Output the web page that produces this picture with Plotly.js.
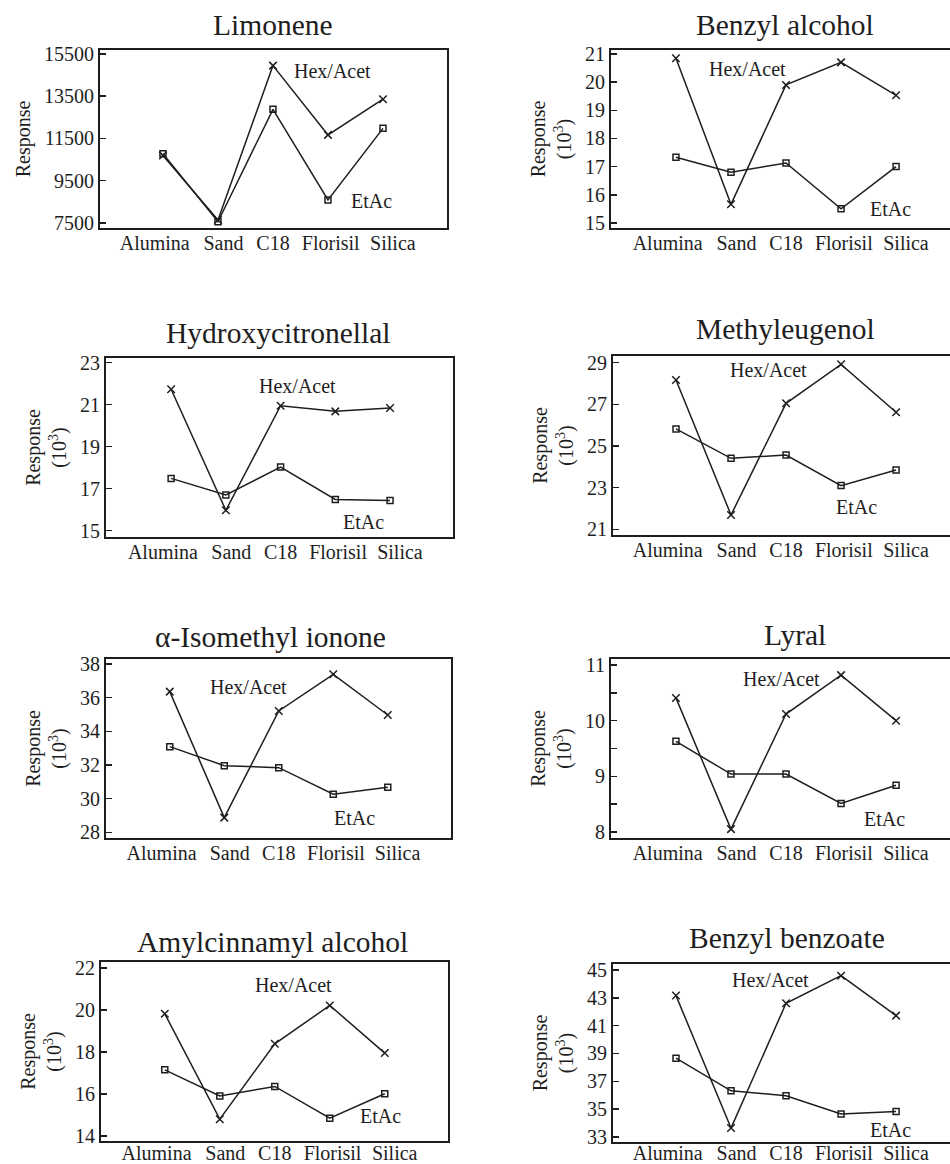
<!DOCTYPE html>
<html>
<head>
<meta charset="utf-8">
<script src="https://cdn.plot.ly/plotly-3.0.1.min.js"></script>
<style>html,body{margin:0;padding:0;background:#fff;overflow:hidden}#chart{width:950px;height:1164px}</style>
</head>
<body>
<div id="chart"></div>
<script>
// ---- data ----
const categories = ['Alumina', 'Sand', 'C18', 'Florisil', 'Silica'];
const seriesNames = ['Hex/Acet', 'EtAc'];
const compoundNames = ['Limonene', 'Benzyl alcohol', 'Hydroxycitronellal', 'Methyleugenol',
  'α-Isomethyl ionone', 'Lyral', 'Amylcinnamyl alcohol', 'Benzyl benzoate'];

const limoneneHex = [10700, 7640, 14950, 11670, 13360];
const limoneneEtAc = [10780, 7560, 12880, 8590, 11980];
const benzylAlcoholHex = [20.85, 15.66, 19.9, 20.7, 19.53];
const benzylAlcoholEtAc = [17.33, 16.8, 17.13, 15.5, 17.0];
const hydroxycitronellalHex = [21.73, 15.97, 20.95, 20.68, 20.84];
const hydroxycitronellalEtAc = [17.49, 16.7, 18.03, 16.49, 16.44];
const methyleugenolHex = [28.17, 21.69, 27.05, 28.92, 26.62];
const methyleugenolEtAc = [25.82, 24.41, 24.57, 23.1, 23.85];
const isomethylIononeHex = [36.36, 28.87, 35.21, 37.39, 34.97];
const isomethylIononeEtAc = [33.09, 31.96, 31.84, 30.26, 30.67];
const lyralHex = [10.41, 8.05, 10.12, 10.82, 10.0];
const lyralEtAc = [9.63, 9.04, 9.04, 8.51, 8.84];
const amylcinnamylHex = [19.82, 14.8, 18.39, 20.22, 17.95];
const amylcinnamylEtAc = [17.15, 15.91, 16.36, 14.85, 16.01];
const benzylBenzoateHex = [43.16, 33.64, 42.61, 44.59, 41.72];
const benzylBenzoateEtAc = [38.66, 36.32, 35.96, 34.65, 34.84];

const limoneneTicks = [7500, 9500, 11500, 13500, 15500];
const benzylAlcoholTicks = [15, 16, 17, 18, 19, 20, 21];
const hydroxycitronellalTicks = [15, 17, 19, 21, 23];
const methyleugenolTicks = [21, 23, 25, 27, 29];
const isomethylIononeTicks = [28, 30, 32, 34, 36, 38];
const lyralTicks = [8, 8.5, 9, 9.5, 10, 10.5, 11];
const lyralTickText = ['8', ' ', '9', ' ', '10', ' ', '11'];
const amylcinnamylTicks = [14, 16, 18, 20, 22];
const benzylBenzoateTicks = [33, 35, 37, 39, 41, 43, 45];

const yTitleSimple = 'Response';
const yTitleScaled = 'Response<br>(10<sup>3</sup>)';

// ---- layout geometry ----
// category index of each point (from the category list)
const catIndex = categories.map((c, i) => i);
// where each category label sits, relative to its point (the source spreads its labels a little)
const labelShift = [-0.15, 0.1, 0, 0.05, 0.18];
const labelPos = catIndex.map((v, i) => v + labelShift[i]);

const W = 950, H = 1164;
const panels = [
  {hex: limoneneHex, etac: limoneneEtAc, ticks: limoneneTicks, ytitle: yTitleSimple,
   box: [100, 447, 50, 228], xr: [-1.145, 5.164], yr: [7263, 15689], right: false, lblOff: -4,
   title: [273, 25], hexLab: [332, 71], etLab: [371, 201]},
  {hex: benzylAlcoholHex, etac: benzylAlcoholEtAc, ticks: benzylAlcoholTicks, ytitle: yTitleScaled,
   box: [611, 950, 50, 228], xr: [-1.18, 4.98], yr: [14.82, 21.14], right: true, lblOff: -4,
   title: [785, 25], hexLab: [747, 69], etLab: [890, 209]},
  {hex: hydroxycitronellalHex, etac: hydroxycitronellalEtAc, ticks: hydroxycitronellalTicks, ytitle: yTitleScaled,
   box: [106, 453, 358, 537], xr: [-1.19, 5.15], yr: [14.7, 23.22], right: false, lblOff: -4,
   title: [278, 333], hexLab: [297, 386], etLab: [363, 522]},
  {hex: methyleugenolHex, etac: methyleugenolEtAc, ticks: methyleugenolTicks, ytitle: yTitleScaled,
   box: [613, 950, 356, 535], xr: [-1.145, 4.98], yr: [20.73, 29.32], right: true, lblOff: -4,
   title: [785, 329], hexLab: [768, 370], etLab: [856, 507]},
  {hex: isomethylIononeHex, etac: isomethylIononeEtAc, ticks: isomethylIononeTicks, ytitle: yTitleScaled,
   box: [106, 451, 659, 838], xr: [-1.17, 5.16], yr: [27.66, 38.3], right: false, lblOff: -4,
   title: [270, 637], hexLab: [248, 687], etLab: [354, 818]},
  {hex: lyralHex, etac: lyralEtAc, ticks: lyralTicks, ticktext: lyralTickText, ytitle: yTitleScaled,
   box: [611, 950, 659, 838], xr: [-1.18, 4.98], yr: [7.89, 11.11], right: true, lblOff: -4,
   title: [795, 635], hexLab: [781, 679], etLab: [884, 819]},
  {hex: amylcinnamylHex, etac: amylcinnamylEtAc, ticks: amylcinnamylTicks, ytitle: yTitleScaled,
   box: [101, 448, 962, 1141], xr: [-1.16, 5.15], yr: [13.76, 22.29], right: false, lblOff: -7,
   title: [272, 942], hexLab: [293, 985], etLab: [380, 1116]},
  {hex: benzylBenzoateHex, etac: benzylBenzoateEtAc, ticks: benzylBenzoateTicks, ytitle: yTitleScaled,
   box: [613, 950, 964, 1142], xr: [-1.145, 4.98], yr: [32.64, 45.43], right: true, lblOff: -8,
   title: [787, 938], hexLab: [770, 980], etLab: [890, 1130]}
];

const FONT = 'Liberation Serif, Times New Roman, serif';
const INK = '#1e1e1e';

const traces = [];
const layout = {
  width: W, height: H,
  margin: {l: 0, r: 0, t: 0, b: 0},
  paper_bgcolor: '#fff', plot_bgcolor: '#fff',
  showlegend: false,
  font: {family: FONT, color: INK, size: 20},
  annotations: []
};

panels.forEach((p, i) => {
  const n = i + 1;
  const xa = n === 1 ? 'x' : 'x' + n;
  const ya = n === 1 ? 'y' : 'y' + n;
  traces.push({
    x: catIndex, y: p.hex, text: categories, xaxis: xa, yaxis: ya, name: seriesNames[0],
    type: 'scatter', mode: 'lines+markers',
    line: {color: INK, width: 1.5},
    marker: {symbol: 'x-thin-open', size: 7.5, color: INK, line: {color: INK, width: 1.5}}
  });
  traces.push({
    x: catIndex, y: p.etac, text: categories, xaxis: xa, yaxis: ya, name: seriesNames[1],
    type: 'scatter', mode: 'lines+markers',
    line: {color: INK, width: 1.5},
    marker: {symbol: 'square-open', size: 6, color: INK, line: {color: INK, width: 1.5}}
  });
  const [l, r, t, b] = p.box;
  layout['xaxis' + (n === 1 ? '' : n)] = {
    domain: [l / W, r / W], anchor: ya, type: 'linear', range: p.xr,
    tickmode: 'array', tickvals: labelPos, ticktext: categories,
    showline: true, linewidth: 2, linecolor: INK, mirror: true,
    ticks: '', tickangle: 0, ticklabelstandoff: p.lblOff,
    showgrid: false, zeroline: false, fixedrange: true,
    tickfont: {family: FONT, size: 20, color: INK}
  };
  layout['yaxis' + (n === 1 ? '' : n)] = {
    domain: [1 - b / H, 1 - t / H], anchor: xa, range: p.yr,
    tickmode: 'array', tickvals: p.ticks, ticktext: p.ticktext || p.ticks.map(String),
    ticks: 'inside', ticklen: 6, tickwidth: 1.5, tickcolor: INK,
    showline: true, linewidth: 2, linecolor: INK, mirror: !p.right,
    showgrid: false, zeroline: false, fixedrange: true,
    tickfont: {family: FONT, size: 20, color: INK},
    title: {text: p.ytitle, font: {family: FONT, size: 20, color: INK}, standoff: 8}
  };
  layout.annotations.push({
    text: compoundNames[i], xref: 'paper', yref: 'paper',
    x: p.title[0] / W, y: 1 - p.title[1] / H, xanchor: 'center', yanchor: 'middle',
    showarrow: false, font: {family: FONT, size: 29.5, color: INK}
  });
  layout.annotations.push({
    text: seriesNames[0], xref: 'paper', yref: 'paper',
    x: p.hexLab[0] / W, y: 1 - p.hexLab[1] / H, xanchor: 'center', yanchor: 'middle',
    showarrow: false, font: {family: FONT, size: 20, color: INK}
  });
  layout.annotations.push({
    text: seriesNames[1], xref: 'paper', yref: 'paper',
    x: p.etLab[0] / W, y: 1 - p.etLab[1] / H, xanchor: 'center', yanchor: 'middle',
    showarrow: false, font: {family: FONT, size: 20, color: INK}
  });
});

Plotly.newPlot('chart', traces, layout, {staticPlot: true, displayModeBar: false});
</script>
</body>
</html>
